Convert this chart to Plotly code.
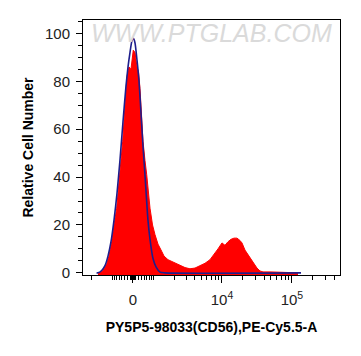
import numpy as np
import plotly.graph_objects as go

# ---- data (display-scale positions in decades of the biexponential axis, counts as % of max) ----
red_pos = [-0.50, -0.471, -0.429, -0.376, -0.343, -0.304, -0.271, -0.233, -0.193, -0.147, -0.114,
           -0.086, -0.057, -0.029, 0.004, 0.029, 0.057, 0.079, 0.100, 0.121, 0.143, 0.171,
           0.196, 0.243, 0.279, 0.314, 0.357, 0.410, 0.443, 0.500, 0.571, 0.671, 0.743,
           0.814, 0.886, 0.957, 1.029, 1.100, 1.171, 1.214, 1.271, 1.314, 1.357, 1.400,
           1.443, 1.486, 1.529, 1.557, 1.600, 1.643, 1.686, 1.729, 1.771, 1.814, 1.857,
           1.957, 2.171, 2.314, 2.357]
red_count = [0, 0, 1, 3.7, 7, 13, 20, 27, 40, 55, 70,
             82, 86, 85, 93, 92, 86, 84, 77, 66, 55, 47,
             41, 27, 20, 16, 12, 9, 7, 5.5, 4.5, 3, 2.2,
             1.7, 2, 3, 4, 5.5, 8, 10, 12.5, 11.5, 13, 14,
             14.5, 14.5, 13.5, 12.5, 9.5, 7.5, 5.5, 3.5, 2, 0.8, 0.4,
             0.4, 0.3, 0.2, 0]

blue_pos = [-0.52, -0.50, -0.447, -0.400, -0.357, -0.314, -0.271, -0.229, -0.186, -0.143, -0.100,
            -0.071, -0.043, -0.014, 0.007, 0.029, 0.057, 0.086, 0.124, 0.143, 0.171,
            0.214, 0.243, 0.286, 0.329, 0.386, 0.45, 2.40]
blue_count = [0, 0, 1, 3, 7, 13, 22, 33, 47, 63, 78,
              86, 92, 97, 98, 96, 89, 80, 62, 53, 41,
              22, 14, 6, 2.5, 0.3, 0, 0]

# tick values in raw fluorescence units
major_raw = [0, 1e4, 1e5]
major_text = ["0", "10<sup>4</sup>", "10<sup>5</sup>"]
minor_raw = ([-2000, -800] + list(range(-700, 0, 100)) + list(range(-60, 0, 10)) + list(range(10, 70, 10))
             + list(range(100, 900, 100)) + list(range(2000, 10000, 1000))
             + [k * 1e4 for k in range(2, 10)] + [k * 1e5 for k in range(2, 5)])
y_ticks = [0, 20, 40, 60, 80, 100]

X_RANGE = [-0.714, 2.957]
Y_RANGE = [-0.9, 105.6]
WIDTH_C = 1074.0


def to_display(v):
    return np.arcsinh(np.asarray(v, dtype=float) / WIDTH_C) / np.log(10)


FONT = "Liberation Sans, Arial, sans-serif"

fig = go.Figure()
# baseline for fill (bottom of plot area)
fig.add_trace(go.Scatter(x=red_pos, y=[Y_RANGE[0]] * len(red_pos), mode="lines",
                         line=dict(width=0, color="rgba(0,0,0,0)"), hoverinfo="skip",
                         showlegend=False))
fig.add_trace(go.Scatter(x=red_pos, y=red_count, mode="lines", fill="tonexty",
                         fillcolor="#ff0000", line=dict(color="#ff0000", width=1),
                         showlegend=False))
fig.add_trace(go.Scatter(x=blue_pos, y=blue_count, mode="lines",
                         line=dict(color="#1e1e8c", width=1.6, shape="spline", smoothing=0.6),
                         showlegend=False))

fig.add_annotation(text="WWW.PTGLAB.COM", xref="paper", yref="paper", x=0.5, y=0.949,
                   xanchor="center", yanchor="middle", showarrow=False,
                   font=dict(family=FONT, size=25, color="#dadada", style="italic"))

# page body has an 8px margin; size the figure so the plot area lands where the reference has it
fig.update_layout(
    width=345, height=340,
    margin=dict(l=75, r=13, t=12, b=73),
    plot_bgcolor="white", paper_bgcolor="white",
    font=dict(family=FONT, size=14, color="#222222"),
)
fig.update_xaxes(
    range=X_RANGE, showgrid=False, zeroline=False, automargin=False,
    showline=True, linecolor="black", linewidth=1, mirror=True,
    tickmode="array", tickvals=to_display(major_raw).tolist(), ticktext=major_text,
    ticks="outside", ticklen=7, tickcolor="black", tickwidth=1, ticklabelstandoff=4,
    tickfont=dict(family=FONT, size=15, color="#222222"),
    minor=dict(tickmode="array", tickvals=to_display(minor_raw).tolist(),
               ticks="outside", ticklen=4, tickcolor="black", tickwidth=1),
    title=dict(text="<b>PY5P5-98033(CD56),PE-Cy5.5-A</b>",
               font=dict(family=FONT, size=14, color="black"), standoff=15),
)
fig.update_yaxes(
    range=Y_RANGE, showgrid=False, zeroline=False, automargin=False,
    showline=True, linecolor="black", linewidth=1, mirror=True,
    tickmode="array", tickvals=y_ticks,
    ticks="outside", ticklen=6, tickcolor="black", tickwidth=1, ticklabelstandoff=3,
    tickfont=dict(family=FONT, size=15, color="#222222"),
    minor=dict(dtick=5, tick0=0, ticks="outside", ticklen=4, tickcolor="black", tickwidth=1),
    title=dict(text="<b>Relative Cell Number</b>",
               font=dict(family=FONT, size=14, color="black"), standoff=8),
)

fig.write_html("out.html")
